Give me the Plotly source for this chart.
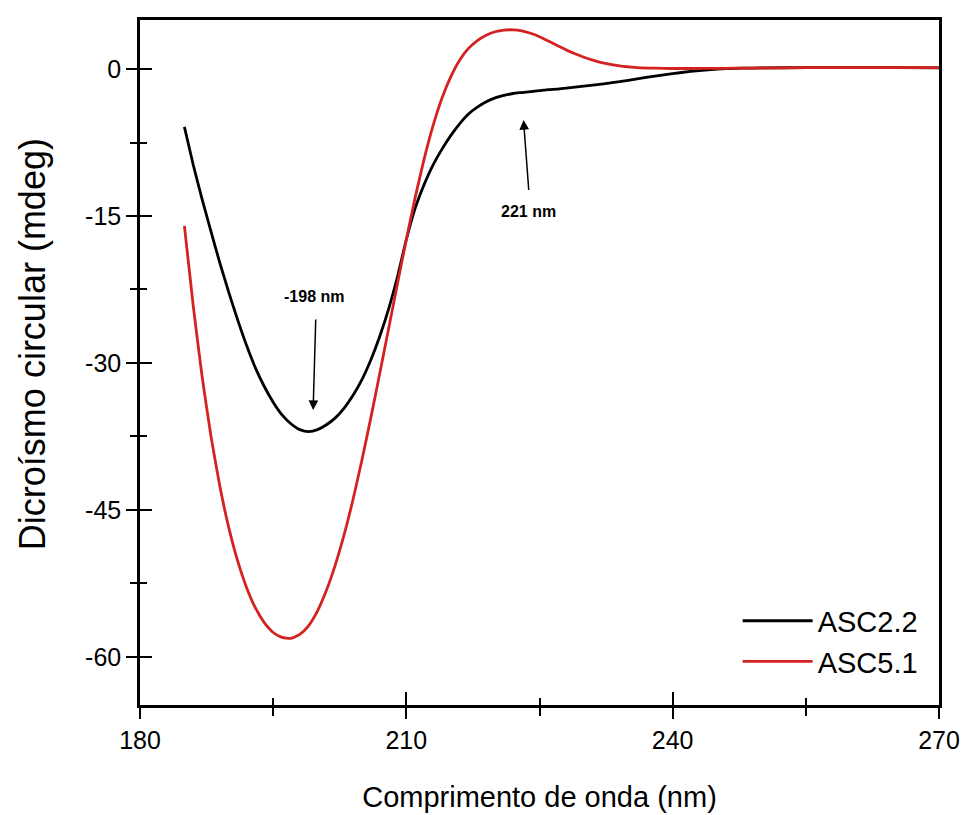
import plotly.graph_objects as go

# Wavelength grid (nm)
wavelength = [185, 186, 187, 188, 189, 190, 191, 192, 193, 194, 195, 196, 197, 198, 199,
              200, 201, 202, 203, 204, 205, 206, 207, 208, 209, 210, 211, 212, 213, 214,
              215, 216, 217, 218, 219, 220, 221, 222, 223, 224, 225, 226, 227, 228, 229,
              230, 231, 232, 234, 236, 238, 240, 242, 244, 246, 248, 250, 255, 260, 265, 270]

# Circular dichroism signal (mdeg)
asc22 = [-5.9, -9.8, -13.3, -16.6, -19.8, -22.8, -25.6, -28.2, -30.5, -32.4, -34.0, -35.3, -36.2, -36.8, -37.0,
         -36.8, -36.3, -35.6, -34.6, -33.3, -31.7, -29.7, -27.3, -24.5, -21.2, -17.4, -14.2, -11.8, -9.8, -8.2,
         -6.8, -5.6, -4.6, -3.9, -3.35, -2.95, -2.7, -2.5, -2.4, -2.3, -2.2, -2.1, -2.05, -1.95, -1.85,
         -1.75, -1.65, -1.55, -1.3, -1.0, -0.72, -0.47, -0.25, -0.08, 0.03, 0.08, 0.11, 0.14, 0.15, 0.13, 0.12]

asc51 = [-16.0, -24.2, -31.4, -37.5, -42.6, -46.8, -50.2, -52.9, -55.0, -56.5, -57.5, -58.0, -58.1, -57.7, -56.8,
         -55.3, -53.2, -50.6, -47.5, -43.9, -39.9, -35.6, -31.1, -26.5, -21.9, -17.4, -13.1, -9.2, -5.8, -3.0,
         -0.8, 0.9, 2.1, 2.9, 3.45, 3.8, 3.97, 4.0, 3.9, 3.65, 3.3, 2.85, 2.4, 1.95, 1.55,
         1.2, 0.9, 0.65, 0.32, 0.15, 0.08, 0.05, 0.05, 0.06, 0.07, 0.09, 0.1, 0.13, 0.15, 0.14, 0.13]

series_names = ["ASC2.2", "ASC5.1"]
series_colors = ["#000000", "#D42222"]

x_tickvals = [180, 210, 240, 270]
x_ticktext = ["180", "210", "240", "270"]
x_minor = [195, 225, 255]
y_tickvals = [0, -15, -30, -45, -60]
y_ticktext = ["0", "-15", "-30", "-45", "-60"]
y_minor = [-7.5, -22.5, -37.5, -52.5]

x_range = [180, 270]
y_range = [-64.9, 5.0]

FONT = "Liberation Sans, Arial, sans-serif"

fig = go.Figure()
for name, ys, col in zip(series_names, [asc22, asc51], series_colors):
    fig.add_trace(go.Scatter(x=wavelength, y=ys, mode="lines", name=name,
                             line=dict(color=col, width=2.8, shape="spline", smoothing=0.5)))

# empty trace to carry the overlay axes that draw the inner half of each tick
fig.add_trace(go.Scatter(x=[], y=[], xaxis="x2", yaxis="y2", showlegend=False, hoverinfo="skip"))

axis_common = dict(showgrid=False, zeroline=False, automargin=False)

fig.update_layout(
    width=965, height=815,
    margin=dict(l=140, r=26, t=20, b=110),
    paper_bgcolor="white", plot_bgcolor="white",
    font=dict(family=FONT, color="black"),
    showlegend=True,
    legend=dict(x=0.748, y=0.16, xanchor="left", yanchor="top",
                font=dict(family=FONT, size=29, color="black"),
                bgcolor="rgba(0,0,0,0)", tracegroupgap=0, itemwidth=70),
    xaxis=dict(range=x_range, tickvals=x_tickvals, ticktext=x_ticktext,
               ticks="outside", ticklen=11, tickwidth=2, tickcolor="black",
               minor=dict(tickvals=x_minor, ticks="outside", ticklen=8, tickwidth=2, tickcolor="black"),
               showline=True, linewidth=2.5, linecolor="black", mirror=True,
               tickfont=dict(size=25, color="black"),
               title=dict(text="Comprimento de onda (nm)", font=dict(size=29, color="black"), standoff=34),
               **axis_common),
    yaxis=dict(range=y_range, tickvals=y_tickvals, ticktext=y_ticktext,
               ticks="outside", ticklen=11, tickwidth=2, tickcolor="black",
               minor=dict(tickvals=y_minor, ticks="outside", ticklen=7, tickwidth=2, tickcolor="black"),
               showline=True, linewidth=2.5, linecolor="black", mirror=True,
               tickfont=dict(size=25, color="black"),
               **axis_common),
    xaxis2=dict(range=x_range, overlaying="x", anchor="y2", side="bottom",
                tickvals=x_tickvals, ticks="inside", ticklen=13, tickwidth=2, tickcolor="black",
                minor=dict(tickvals=x_minor, ticks="inside", ticklen=7, tickwidth=2, tickcolor="black"),
                showticklabels=False, showline=False, **axis_common),
    yaxis2=dict(range=y_range, overlaying="y", anchor="x2", side="left",
                tickvals=y_tickvals, ticks="inside", ticklen=12, tickwidth=2, tickcolor="black",
                minor=dict(tickvals=y_minor, ticks="inside", ticklen=7, tickwidth=2, tickcolor="black"),
                showticklabels=False, showline=False, **axis_common),
)

# y-axis title, set a little above the plot's vertical centre
fig.add_annotation(text="Dicroísmo circular (mdeg)", textangle=-90, xref="paper", yref="paper",
                   x=-0.135, y=0.527, xanchor="center", yanchor="middle", showarrow=False,
                   font=dict(family=FONT, size=36, color="black"))

# peak labels with arrows
label_font = dict(family=FONT, size=16, color="black")
fig.add_annotation(x=199.6, y=-23.2, text="<b>-198 nm</b>", showarrow=False, font=label_font)
fig.add_annotation(x=199.5, y=-34.8, ax=199.8, ay=-25.4, axref="x", ayref="y", text="",
                   showarrow=True, arrowhead=2, arrowsize=1.3, arrowwidth=1.5, arrowcolor="black")
fig.add_annotation(x=223.8, y=-14.5, text="<b>221 nm</b>", showarrow=False, font=label_font)
fig.add_annotation(x=223.2, y=-5.2, ax=223.8, ay=-12.5, axref="x", ayref="y", text="",
                   showarrow=True, arrowhead=2, arrowsize=1.3, arrowwidth=1.5, arrowcolor="black")

fig.write_html("out.html")
